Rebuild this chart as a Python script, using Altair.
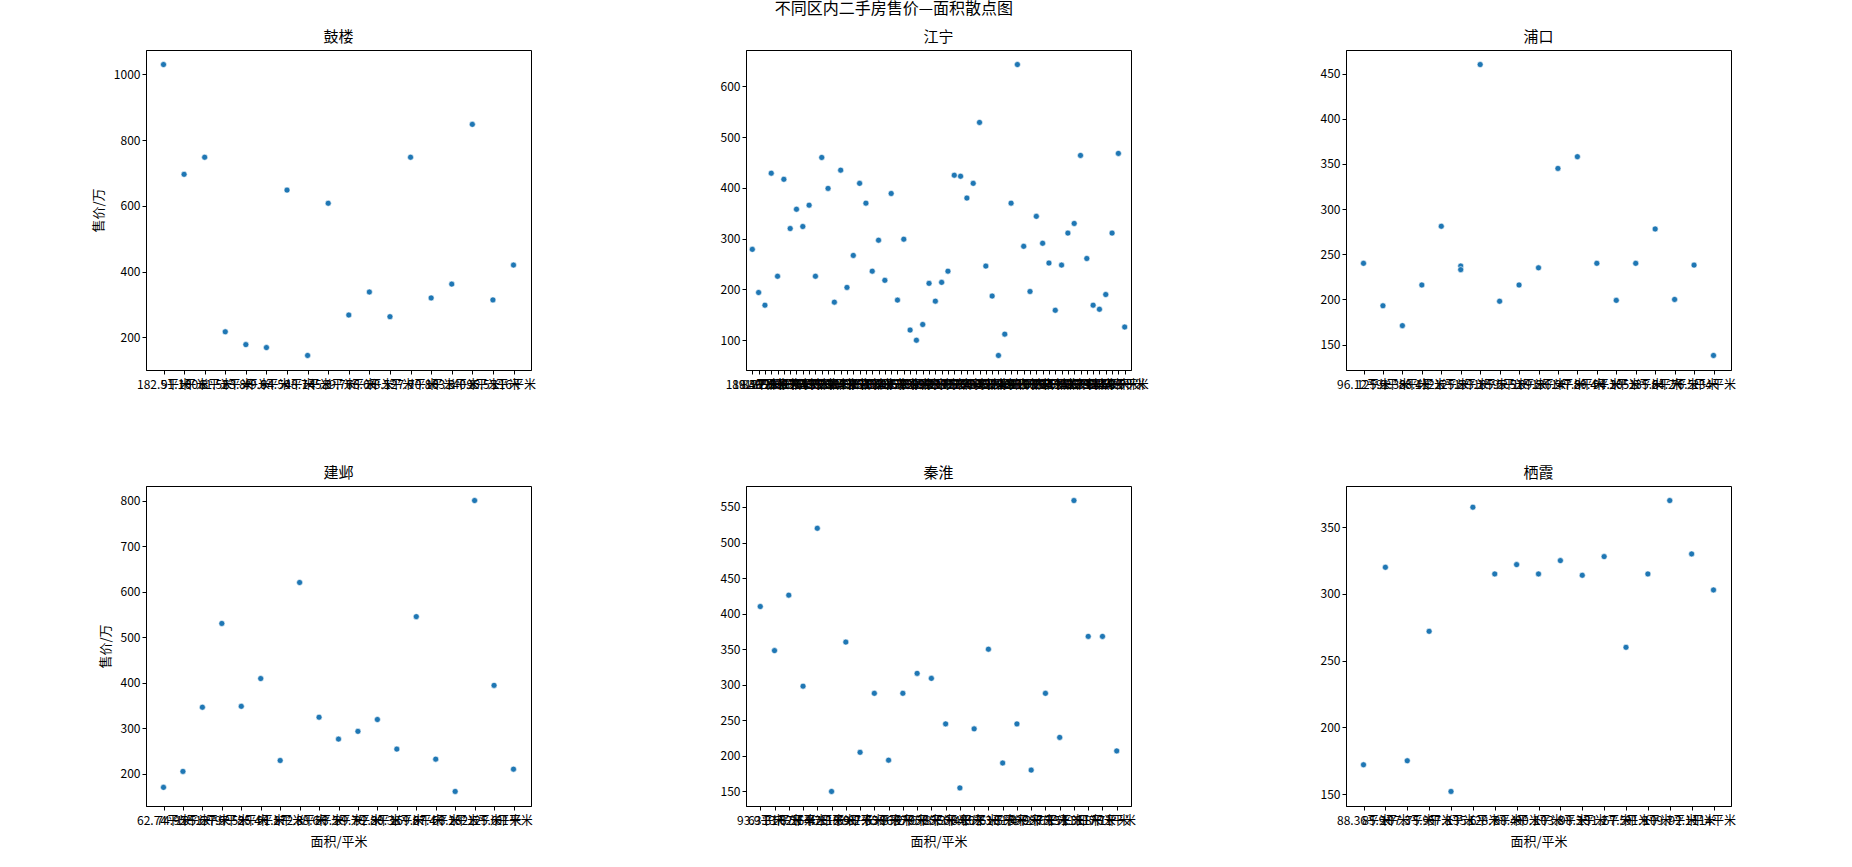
import altair as alt
import pandas as pd

FONT = "Noto Sans CJK SC"
BLUE = "#1f77b4"

gulou_area = ["182.5平米", "91.1平米", "100.8平米", "61.52平米", "63.8平米", "49.6平米", "94.59平米", "48.7平米",
              "145.3平米", "89.76平米", "76.6平米", "88.5平米", "127.9平米", "70.8平米", "103.3平米", "140.8平米",
              "95.55平米", "116平米"]
gulou_price = [1030, 696, 748, 217, 178, 169, 648, 145, 608, 268, 338, 263, 748, 320, 362, 848, 314, 420]

jiangning_area = ["118.5平米", "89.36平米", "84.2平米", "137.6平米", "95.1平米", "128.9平米", "108.3平米", "119.7平米",
                  "112.4平米", "126.8平米", "90.5平米", "143.2平米", "125.6平米", "78.9平米", "133.4平米", "88.7平米",
                  "101.2平米", "131.5平米", "120.3平米", "96.8平米", "110.6平米", "93.4平米", "124.1平米", "81.5平米",
                  "105.9平米", "67.3平米", "58.6平米", "72.8平米", "89.9平米", "80.2平米", "92.1平米", "98.7平米",
                  "139.5平米", "135.2平米", "127.4平米", "130.8平米", "165.3平米", "99.6平米", "87.1平米", "45.8平米",
                  "61.4平米", "121.9平米", "198.7平米", "109.5平米", "86.3平米", "116.2平米", "107.7平米", "100.4平米",
                  "76.5平米", "97.2平米", "113.8平米", "115.6平米", "142.7平米", "103.9平米", "83.6平米", "79.4平米",
                  "88.2平米", "111.3平米", "144.9平米", "69.5平米"]
jiangning_price = [279, 194, 169, 429, 226, 417, 320, 358, 324, 366,
                   226, 460, 399, 175, 435, 204, 267, 409, 370, 236,
                   297, 218, 389, 179, 299, 120, 100, 131, 212, 177,
                   214, 236, 425, 423, 380, 409, 529, 246, 187, 70,
                   112, 370, 643, 285, 196, 344, 291, 252, 159, 248,
                   311, 330, 464, 261, 169, 161, 190, 311, 468, 126]

pukou_area = ["96.12平米", "125.9平米", "91.38平米", "88.4平米", "112.6平米", "125.8平米", "125.8平米", "133.1平米",
              "105.5平米", "95.51平米", "109.8平米", "136.9平米", "147.8平米", "89.4平米", "94.3平米", "105.9平米",
              "135.6平米", "84.2平米", "76.5平米", "134平米"]
pukou_price = [240, 193, 171, 216, 281, 237, 233, 460, 198, 216, 235, 345, 358, 240, 199, 240, 278, 200, 238, 138]

jianye_area = ["62.74平米", "74.95平米", "105.6平米", "137.9平米", "97.52平米", "85.4平米", "91.8平米", "172.3平米",
               "88.6平米", "83.5平米", "89.7平米", "92.3平米", "80.38平米", "159.6平米", "87.4平米", "63.2平米",
               "182.5平米", "125.6平米", "61平米"]
jianye_price = [170, 205, 346, 530, 348, 409, 229, 620, 324, 276, 293, 319, 254, 545, 232, 161, 800, 394, 210]

qinhuai_area = ["93.9平米", "63.31平米", "137.2平米", "87.1平米", "164.7平米", "42.3平米", "118.9平米", "69.2平米",
                "87.65平米", "53.8平米", "96.2平米", "97.6平米", "95.8平米", "85.3平米", "50.4平米", "84.5平米",
                "102.3平米", "61.5平米", "81.4平米", "59.2平米", "98.6平米", "75.3平米", "151.3平米", "115.8平米",
                "117.1平米", "71平米"]
qinhuai_price = [410, 348, 426, 298, 520, 150, 360, 205, 288, 194, 288, 316, 309, 245, 155, 238, 350, 190, 245, 180,
                 288, 226, 559, 368, 368, 207]

qixia_area = ["88.36平米", "85.9平米", "107.3平米", "75.9平米", "57.8平米", "135.6平米", "128.7平米", "88.4平米",
              "90.1平米", "103.8平米", "98.3平米", "131.2平米", "67.5平米", "91.9平米", "109.7平米", "92.1平米", "114平米"]
qixia_price = [172, 320, 175, 272, 152, 365, 315, 322, 315, 325, 314, 328, 260, 315, 370, 330, 303]

districts = ["鼓楼", "江宁", "浦口", "建邺", "秦淮", "栖霞"]
areas = [gulou_area, jiangning_area, pukou_area, jianye_area, qinhuai_area, qixia_area]
prices = [gulou_price, jiangning_price, pukou_price, jianye_price, qinhuai_price, qixia_price]
yticks = [[200, 400, 600, 800, 1000],
          [100, 200, 300, 400, 500, 600],
          [150, 200, 250, 300, 350, 400, 450],
          [200, 300, 400, 500, 600, 700, 800],
          [150, 200, 250, 300, 350, 400, 450, 500, 550],
          [150, 200, 250, 300, 350]]

X_TITLE = "面积/平米"
Y_TITLE = "售价/万"


def panel(i):
    a, p = areas[i], prices[i]
    cats = list(dict.fromkeys(a))
    n = len(cats)
    lo, hi = min(p), max(p)
    m = 0.05 * (hi - lo)
    df = pd.DataFrame({"area": a, "price": p})
    show_y = i % 3 == 0
    show_x = i >= 3
    xaxis = dict(labelAngle=0, labelOverlap=False, labelLimit=0, labelFlush=False, labelBound=False,
                 labelPadding=5, titlePadding=9)
    xaxis["title"] = X_TITLE if show_x else None
    yaxis = dict(values=yticks[i], titlePadding=8, format="d")
    yaxis["title"] = Y_TITLE if show_y else None
    return alt.Chart(df).mark_circle(size=36, color=BLUE, opacity=1, stroke="white", strokeWidth=0.6).encode(
        x=alt.X("area:N", sort=cats,
                scale=alt.Scale(type="point", domain=cats, padding=0.05 * (n - 1)),
                axis=alt.Axis(**xaxis)),
        y=alt.Y("price:Q", scale=alt.Scale(domain=[lo - m, hi + m], nice=False, zero=False),
                axis=alt.Axis(**yaxis)),
    ).properties(width=385, height=320,
                 title=alt.TitleParams(districts[i], fontSize=15, offset=5, font=FONT, fontWeight="normal",
                                       color="black"))


chart = alt.concat(*[panel(i) for i in range(6)], columns=3,
                   spacing={"row": 116, "column": 215}, bounds="flush",
                   title=alt.TitleParams("不同区内二手房售价—面积散点图", fontSize=16, font=FONT, color="black",
                                         fontWeight="normal", anchor="middle", offset=13, dx=-20)
                   ).properties(padding={"left": 91, "top": 0, "right": 5, "bottom": 5}, background="white"
                   ).configure_view(stroke="black", strokeWidth=1
                   ).configure_axis(grid=False, domainColor="black", tickColor="black", tickSize=4,
                                    labelColor="black", labelFontSize=12, labelFont=FONT,
                                    titleFont=FONT, titleFontSize=13, titleFontWeight="normal",
                                    titleColor="black", domainWidth=1, tickWidth=1)

chart.save("out.html", embed_options={"renderer": "svg", "actions": False})
